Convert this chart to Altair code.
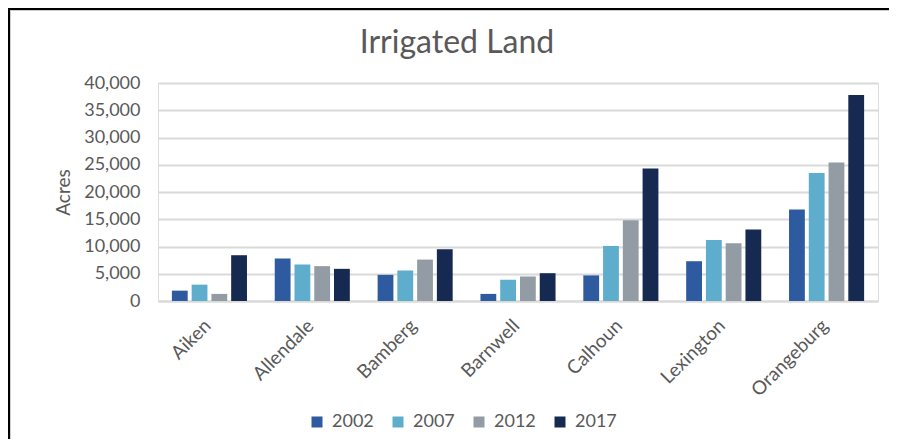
import altair as alt
import pandas as pd

counties = ["Aiken", "Allendale", "Bamberg", "Barnwell", "Calhoun", "Lexington", "Orangeburg"]
years = ["2002", "2007", "2012", "2017"]
v2002 = [1900, 7800, 4800, 1300, 4700, 7300, 16800]
v2007 = [3000, 6700, 5600, 3900, 10100, 11200, 23500]
v2012 = [1300, 6400, 7600, 4500, 14800, 10600, 25400]
v2017 = [8400, 5900, 9500, 5100, 24300, 13100, 37800]
colors = ["#2e5b9f", "#5eadcd", "#939ca5", "#162951"]

rows = []
for yr, vals in zip(years, [v2002, v2007, v2012, v2017]):
    for c, v in zip(counties, vals):
        rows.append({"County": c, "Year": yr, "Acres": v})
df = pd.DataFrame(rows)

FONT = "Lato"
GRAY = "#595959"

bars = alt.Chart(df).mark_bar().encode(
    x=alt.X("County:N", sort=counties, title=None,
            scale=alt.Scale(paddingInner=0.27, paddingOuter=0.135),
            axis=alt.Axis(labelAngle=-45, labelFontSize=19, labelColor=GRAY, labelFont=FONT,
                          ticks=False, domainColor="#d9d9d9", domainWidth=2,
                          labelPadding=15, labelOffset=-8)),
    xOffset=alt.XOffset("Year:N", sort=years, scale=alt.Scale(paddingInner=0.2)),
    y=alt.Y("Acres:Q", title="Acres",
            scale=alt.Scale(domain=[0, 40000]),
            axis=alt.Axis(values=list(range(0, 40001, 5000)), format=",.0f", labelFontSize=18,
                          labelColor=GRAY, labelFont=FONT, ticks=False, domain=False,
                          labelPadding=18, titleFontSize=19, titleColor=GRAY, titleFont=FONT,
                          titleFontWeight="normal", titlePadding=10,
                          gridColor="#d9d9d9", gridWidth=2)),
    color=alt.Color("Year:N", sort=years,
                    scale=alt.Scale(domain=years, range=colors),
                    legend=alt.Legend(title=None, orient="none", direction="horizontal",
                                      legendX=150, legendY=330,
                                      symbolType="square", symbolSize=121, symbolStrokeWidth=0,
                                      labelFontSize=18, labelColor=GRAY, labelFont=FONT,
                                      labelOffset=6, columnPadding=15)),
)

top_border = alt.Chart(df).mark_rule(color="black", strokeWidth=3).encode(
    x=alt.value(-152), x2=alt.value(760), y=alt.value(-74.5))
left_border = alt.Chart(df).mark_rule(color="black", strokeWidth=3).encode(
    x=alt.value(-149.5), y=alt.value(-76), y2=alt.value(360))
top_inner = alt.Chart(df).mark_rule(color="#cccccc", strokeWidth=1).encode(
    x=alt.value(-148), x2=alt.value(760), y=alt.value(-72.5))
left_inner = alt.Chart(df).mark_rule(color="#cccccc", strokeWidth=1).encode(
    x=alt.value(-147.5), y=alt.value(-73), y2=alt.value(360))

chart = alt.layer(bars, top_border, left_border, top_inner, left_inner).properties(
    width=720, height=218,
    autosize=alt.AutoSizeParams(type="none"),
    padding={"left": 150, "top": 75, "right": 11, "bottom": 138},
    title=alt.TitleParams("Irrigated Land", fontSize=32, font=FONT, color=GRAY,
                          fontWeight="normal", anchor="middle", dx=-61, offset=-54),
).configure_view(fill="#f2f2f2", stroke=None).configure(background="white")

chart.save("out.html", embed_options={"renderer": "svg", "actions": False})
